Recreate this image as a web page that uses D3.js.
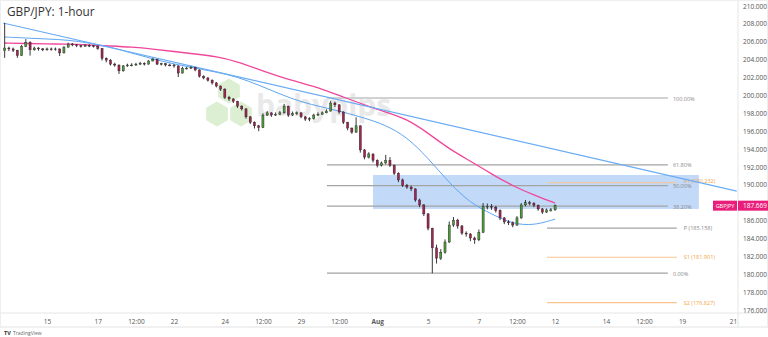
<!DOCTYPE html>
<html>
<head>
<meta charset="utf-8">
<script src="https://cdn.jsdelivr.net/npm/d3@7"></script>
<style>
  body { margin: 0; background: #fff; }
  svg { display: block; font-family: "Open Sans", "Liberation Sans", sans-serif; }
</style>
</head>
<body>
<svg id="chart" width="768" height="337"></svg>
<script>
// 4-hour blocks, starting Jul 11 ~06:00
const firstOpen = 205.0;
const closes = [
  205.30, 205.20, 205.05, 204.45, 205.50, 205.95, 205.10, 205.30, 205.20, 205.10,
  205.20, 205.15, 205.20, 204.75, 205.40, 205.75, 205.65, 205.55, 205.50, 205.60,
  205.55, 205.50, 205.25, 204.15, 203.95, 203.50, 203.40, 202.75, 203.30, 203.40,
  203.40, 203.50, 203.60, 203.50, 203.85, 204.05, 203.50, 203.55, 203.40, 203.40,
  203.30, 202.50, 203.05, 203.05, 203.15, 202.85, 202.15, 201.95, 201.70, 201.40,
  201.05, 200.70, 199.80, 199.60, 199.35, 198.80, 198.50, 197.60, 197.00, 196.60,
  196.40, 197.80, 198.05, 197.80, 197.90, 198.05, 198.80, 197.80, 198.00, 198.05,
  197.60, 197.35, 197.40, 197.80, 197.90, 198.05, 198.25, 199.15, 198.95, 198.15,
  197.00, 196.35, 195.90, 196.60, 193.90, 193.10, 193.45, 192.75, 192.20, 192.45,
  192.75, 192.20, 191.30, 190.55, 189.95, 189.75, 189.55, 188.30, 187.75, 186.75,
  185.15, 182.95, 181.80, 182.45, 183.60, 185.50, 186.05, 185.40, 184.60, 184.50,
  184.05, 183.85, 184.70, 187.55, 187.60, 187.50, 187.15, 186.30, 185.85, 185.75,
  185.50, 186.30, 187.75, 188.00, 187.95, 187.70, 187.30, 186.95, 187.20, 187.20,
  187.669
];
const highs = [
  208.10, 205.45, 205.35, 205.10, 205.65, 206.30, 206.05, 205.45, 205.40, 205.30,
  205.35, 205.35, 205.35, 205.25, 205.50, 205.90, 205.85, 205.75, 205.65, 205.75,
  205.70, 205.65, 205.60, 205.30, 204.25, 204.05, 203.65, 203.45, 203.40, 203.55,
  203.60, 203.65, 203.75, 203.70, 203.95, 204.20, 204.10, 203.65, 203.60, 203.55,
  203.50, 203.35, 203.20, 203.20, 203.30, 203.20, 202.90, 202.25, 202.05, 201.80,
  201.50, 201.10, 200.80, 199.95, 199.70, 199.40, 198.90, 198.55, 197.70, 197.10,
  196.70, 198.00, 198.25, 198.10, 198.10, 198.25, 199.05, 198.85, 198.20, 198.20,
  198.10, 197.70, 197.55, 197.95, 198.10, 198.20, 198.45, 199.40, 199.30, 199.00,
  198.20, 197.05, 196.40, 197.55, 196.65, 194.00, 193.65, 193.50, 192.85, 192.60,
  193.35, 193.10, 192.25, 191.40, 190.70, 190.10, 189.90, 189.60, 188.45, 187.85,
  186.85, 185.20, 183.30, 182.80, 183.90, 185.90, 186.40, 186.20, 185.50, 184.80,
  184.60, 184.20, 185.00, 187.95, 187.90, 187.85, 187.65, 187.25, 186.40, 186.05,
  185.90, 186.50, 187.95, 188.30, 188.20, 188.05, 187.80, 187.40, 187.35, 187.40,
  187.80
];
const lows = [
  204.20, 204.95, 204.85, 204.20, 204.40, 205.40, 204.45, 205.00, 205.00, 204.95,
  205.00, 205.00, 205.00, 204.40, 204.70, 205.35, 205.50, 205.40, 205.35, 205.45,
  205.40, 205.35, 205.10, 203.90, 203.70, 203.35, 203.20, 202.40, 202.65, 203.20,
  203.25, 203.30, 203.40, 203.35, 203.45, 203.80, 203.40, 203.35, 203.25, 203.25,
  203.10, 202.05, 202.45, 202.90, 202.95, 202.70, 202.00, 201.80, 201.55, 201.20,
  200.90, 200.50, 199.60, 199.40, 199.15, 198.60, 198.30, 197.40, 196.80, 196.30,
  196.00, 196.35, 197.70, 197.60, 197.70, 197.80, 197.95, 197.60, 197.70, 197.80,
  197.45, 197.15, 197.10, 197.30, 197.70, 197.85, 198.00, 198.20, 198.70, 197.95,
  196.80, 196.10, 195.70, 195.80, 193.60, 192.85, 192.95, 192.50, 191.95, 192.05,
  192.30, 192.00, 191.10, 190.30, 189.75, 189.55, 189.30, 188.10, 187.50, 186.50,
  184.90, 180.10, 181.20, 181.60, 182.30, 183.50, 185.30, 185.10, 184.40, 184.20,
  183.70, 183.40, 183.70, 184.60, 187.25, 187.20, 186.90, 186.05, 185.60, 185.50,
  185.25, 185.40, 186.20, 187.60, 187.70, 187.50, 187.10, 186.75, 186.85, 187.00,
  187.10
];
// moving averages sampled every 5th block
const sma200 = [
  205.86, 205.81, 205.75, 205.75, 205.64, 205.53, 205.41, 205.19, 204.91, 204.63,
  204.35, 203.79, 202.90, 202.06, 201.39, 200.72, 199.82, 198.93, 198.14, 197.36,
  195.79, 194.00, 192.66, 191.21, 189.87, 188.86, 187.96
];
const sma100 = [
  206.53, 206.42, 206.31, 206.20, 205.86, 205.41, 204.74, 204.07, 203.51, 203.06,
  202.62, 202.06, 201.16, 200.16, 199.26, 198.70, 198.14, 197.47, 196.69, 195.35,
  193.00, 190.20, 187.96, 186.73, 185.62, 185.45, 186.17
];

// x is measured in trading days, Jul 15 = 0
const tickDays = [0, 2, 3.5, 5, 7, 8.5, 10, 11.5, 13, 15, 17, 18.5, 20, 22, 23.5, 25, 27];
const tickLabels = ['15', '17', '12:00', '22', '24', '12:00', '29', '12:00', 'Aug', '5', '7', '12:00', '12', '14', '12:00', '19', '21'];
const priceTicks = d3.range(176, 211, 2);

const fibLevels = [1, 0.618, 0.5, 0.382, 0];
const fibLabels = ['100.00%', '61.80%', '50.00%', '38.20%', '0.00%'];
const fibLow = 180.13, fibHigh = 199.71;
const pivotNames = ['R1', 'P', 'S1', 'S2'];
const pivotValues = [190.232, 185.158, 181.901, 176.827];
const zone = [187.30, 191.10];
const trendPrices = [208.10, 189.30];
const lastPrice = 187.669;

const W = 768, H = 337, plotRight = 738, axisTop = 313, axisBottom = 327;
const startDay = -1.75, blockDays = 1 / 6;

const svg = d3.select('#chart');
const x = d3.scaleLinear().domain([-1.85, 27.2]).range([0, plotRight]);
const y = d3.scaleLinear().domain([176, 210]).range([310, 6]);
const blockMid = i => startDay + i * blockDays + blockDays / 2;

svg.append('defs').append('clipPath').attr('id', 'plot')
   .append('rect').attr('width', plotRight).attr('height', axisTop);

// watermark
const wm = svg.append('g').attr('class', 'watermark');
const hexPath = (cx, cy, r) => d3.line()(d3.range(6).map(k => {
   const a = Math.PI / 3 * k + Math.PI / 6;
   return [cx + r * Math.cos(a), cy + r * Math.sin(a)];
})) + 'Z';
[[229, 91], [217, 114], [241, 114]].forEach(([cx, cy]) => {
   wm.append('path').attr('d', hexPath(cx, cy, 12.5)).attr('fill', '#dcefd2');
});
wm.append('text').attr('x', 256).attr('y', 116)
   .attr('font-size', 30).attr('font-weight', 'bold')
   .attr('fill', '#e9e9e9').text('babypips');

const plot = svg.append('g').attr('clip-path', 'url(#plot)');

// demand/supply zone
plot.append('rect')
   .attr('x', x(12.83)).attr('width', x(25.66) - x(12.83))
   .attr('y', y(zone[1])).attr('height', y(zone[0]) - y(zone[1]))
   .attr('fill', 'rgba(120,170,240,0.45)');

// fibonacci retracement
fibLevels.forEach((lv, k) => {
   const p = fibLow + lv * (fibHigh - fibLow);
   plot.append('line')
      .attr('x1', x(11.02)).attr('x2', x(24.44))
      .attr('y1', y(p)).attr('y2', y(p))
      .attr('stroke', '#a3a3a3').attr('stroke-width', 1.2);
   plot.append('text').attr('x', x(24.44) + 5).attr('y', y(p) + 2.5)
      .attr('font-size', 5.5).attr('fill', '#888').text(fibLabels[k]);
});

// pivot points
pivotNames.forEach((nm, k) => {
   const col = nm === 'P' ? '#a3a3a3' : '#f9c48e';
   plot.append('line')
      .attr('x1', x(19.68)).attr('x2', x(24.79))
      .attr('y1', y(pivotValues[k])).attr('y2', y(pivotValues[k]))
      .attr('stroke', col).attr('stroke-width', 1.2);
   plot.append('text').attr('x', x(24.79) + 7).attr('y', y(pivotValues[k]) + (nm === 'R1' ? 0.5 : 2))
      .attr('font-size', 5.5).attr('fill', nm === 'P' ? '#888' : '#f3a33f')
      .text(`${nm} (${pivotValues[k].toFixed(3)})`);
});

// moving averages
const maLine = d3.line().x((d, k) => x(blockMid(k * 5))).y(d => y(d)).curve(d3.curveBasis);
plot.append('path').attr('d', maLine(sma200)).attr('fill', 'none')
   .attr('stroke', '#f0479b').attr('stroke-width', 1.3);
plot.append('path').attr('d', maLine(sma100)).attr('fill', 'none')
   .attr('stroke', '#5ea6f2').attr('stroke-width', 1);

// trend line
plot.append('line')
   .attr('x1', x(-1.73)).attr('y1', y(trendPrices[0]))
   .attr('x2', x(27.15)).attr('y2', y(trendPrices[1]))
   .attr('stroke', '#6aacf4').attr('stroke-width', 1.2);

// candles
const opens = [firstOpen].concat(closes.slice(0, -1));
const bw = (x(blockDays) - x(0)) * 0.5;
const candles = plot.append('g').selectAll('g').data(closes).join('g');
candles.append('line')
   .attr('x1', (d, i) => x(blockMid(i))).attr('x2', (d, i) => x(blockMid(i)))
   .attr('y1', (d, i) => y(highs[i])).attr('y2', (d, i) => y(lows[i]))
   .attr('stroke', '#222').attr('stroke-width', 0.9);
candles.append('rect')
   .attr('x', (d, i) => x(blockMid(i)) - bw / 2).attr('width', bw)
   .attr('y', (d, i) => y(Math.max(d, opens[i])))
   .attr('height', (d, i) => Math.max(0.8, Math.abs(y(d) - y(opens[i]))))
   .attr('fill', (d, i) => d >= opens[i] ? '#4f9a3c' : '#a3244f')
   .attr('stroke', '#222').attr('stroke-width', 0.4);

// frame and axes
svg.append('line').attr('x1', 0).attr('x2', W).attr('y1', axisTop).attr('y2', axisTop).attr('stroke', '#e6e6e6');
svg.append('line').attr('x1', 0).attr('x2', W).attr('y1', axisBottom).attr('y2', axisBottom).attr('stroke', '#e6e6e6');
svg.append('line').attr('x1', plotRight).attr('x2', plotRight).attr('y1', 0).attr('y2', axisBottom).attr('stroke', '#e6e6e6');
svg.append('rect').attr('x', 0.5).attr('y', 0.5).attr('width', W - 1).attr('height', axisBottom - 0.5)
   .attr('fill', 'none').attr('stroke', '#eeeeee');

const xAxis = svg.append('g').attr('transform', `translate(0,${axisTop})`)
   .call(d3.axisBottom(x).tickValues(tickDays).tickSize(0).tickPadding(6)
      .tickFormat((d, i) => tickLabels[i]));
xAxis.select('.domain').remove();
xAxis.selectAll('text').attr('font-size', 6.5).attr('fill', '#555')
   .attr('font-family', '"Open Sans", sans-serif')
   .attr('font-weight', (d, i) => tickLabels[i] === 'Aug' ? 'bold' : null);

// price ticks hidden behind the last-price tag are left out, as on the chart
const py = y(lastPrice);
const yAxis = svg.append('g').attr('transform', `translate(${plotRight},0)`)
   .call(d3.axisRight(y).tickValues(priceTicks.filter(v => Math.abs(y(v) - py) > 8))
      .tickSize(0).tickPadding(5).tickFormat(d3.format('.3f')));
yAxis.select('.domain').remove();
yAxis.selectAll('text').attr('font-size', 6.5).attr('fill', '#555')
   .attr('font-family', '"Open Sans", sans-serif');

// last price tag
svg.append('rect').attr('x', 713).attr('y', py - 5).attr('width', 24).attr('height', 10).attr('fill', '#e91e7a');
svg.append('text').attr('x', 725).attr('y', py + 2.2).attr('text-anchor', 'middle')
   .attr('font-size', 5.5).attr('fill', '#fff').text('GBPJPY');
svg.append('rect').attr('x', 738).attr('y', py - 5).attr('width', 30).attr('height', 10).attr('fill', '#e91e7a');
svg.append('text').attr('x', 743).attr('y', py + 2.3)
   .attr('font-size', 6.5).attr('fill', '#fff').text(lastPrice.toFixed(3));

// title and footer
svg.append('text').attr('x', 7).attr('y', 16).attr('font-size', 11.8).attr('fill', '#333').text('GBP/JPY: 1-hour');
svg.append('text').attr('x', 4).attr('y', 335).attr('font-size', 5.5).attr('fill', '#333')
   .attr('font-weight', 'bold').text('TV');
svg.append('text').attr('x', 13).attr('y', 335).attr('font-size', 5).attr('fill', '#666').text('TradingView');
</script>
</body>
</html>
